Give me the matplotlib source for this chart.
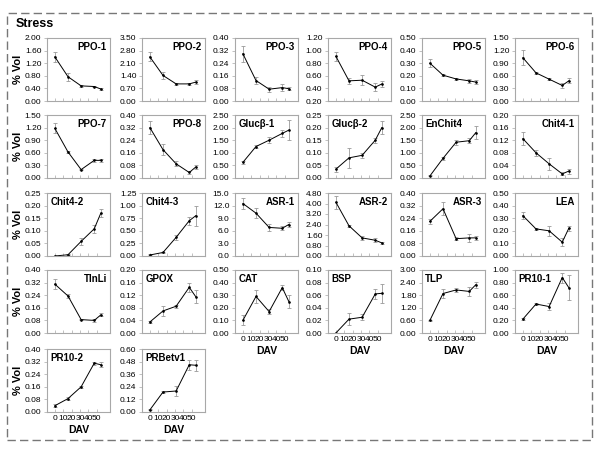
import numpy as np
import matplotlib
matplotlib.use("Agg")
import matplotlib.pyplot as plt
from matplotlib.patches import Rectangle

plt.rcParams['font.family'] = ['Liberation Sans', 'DejaVu Sans']

dav = [0, 10, 20, 30, 35]
dav_ticks = [0, 10, 20, 30, 40, 50]

names = ["PPO-1", "PPO-2", "PPO-3", "PPO-4", "PPO-5", "PPO-6",
         "PPO-7", "PPO-8", "Gluc\u03b2-1", "Gluc\u03b2-2", "EnChit4", "Chit4-1",
         "Chit4-2", "Chit4-3", "ASR-1", "ASR-2", "ASR-3", "LEA",
         "TlnLi", "GPOX", "CAT", "BSP", "TLP", "PR10-1",
         "PR10-2", "PRBetv1"]

values = [
    [1.40, 0.77, 0.48, 0.46, 0.38],
    [2.45, 1.42, 0.95, 0.95, 1.05],
    [0.30, 0.13, 0.075, 0.085, 0.078],
    [0.91, 0.52, 0.53, 0.42, 0.47],
    [0.30, 0.205, 0.175, 0.16, 0.15],
    [1.03, 0.67, 0.52, 0.37, 0.48],
    [1.18, 0.62, 0.20, 0.42, 0.42],
    [0.32, 0.18, 0.09, 0.035, 0.07],
    [0.62, 1.25, 1.50, 1.77, 1.90],
    [0.035, 0.08, 0.09, 0.15, 0.20],
    [0.08, 0.78, 1.42, 1.48, 1.80],
    [0.125, 0.08, 0.045, 0.013, 0.022],
    [0.0, 0.005, 0.058, 0.108, 0.17],
    [0.02, 0.07, 0.37, 0.70, 0.80],
    [12.5, 10.2, 6.8, 6.6, 7.5],
    [4.1, 2.3, 1.38, 1.2, 1.0],
    [0.22, 0.30, 0.11, 0.115, 0.115],
    [0.32, 0.215, 0.20, 0.11, 0.22],
    [0.31, 0.235, 0.085, 0.08, 0.115],
    [0.035, 0.07, 0.085, 0.145, 0.115],
    [0.10, 0.29, 0.17, 0.36, 0.25],
    [0.0, 0.022, 0.025, 0.062, 0.063],
    [0.60, 1.88, 2.05, 1.98, 2.30],
    [0.22, 0.46, 0.42, 0.88, 0.72],
    [0.04, 0.085, 0.16, 0.31, 0.30],
    [0.02, 0.19, 0.20, 0.45, 0.445],
]

errors = [
    [0.15, 0.12, 0.02, 0.03, 0.02],
    [0.25, 0.20, 0.05, 0.07, 0.10],
    [0.05, 0.02, 0.015, 0.02, 0.01],
    [0.07, 0.05, 0.08, 0.06, 0.05],
    [0.03, 0.01, 0.01, 0.015, 0.015],
    [0.18, 0.03, 0.02, 0.05, 0.06],
    [0.12, 0.02, 0.02, 0.03, 0.03],
    [0.04, 0.035, 0.015, 0.01, 0.01],
    [0.05, 0.05, 0.12, 0.15, 0.40],
    [0.01, 0.04, 0.01, 0.01, 0.025],
    [0.02, 0.05, 0.10, 0.10, 0.25],
    [0.02, 0.01, 0.02, 0.005, 0.008],
    [0.0, 0.003, 0.015, 0.015, 0.015],
    [0.01, 0.01, 0.05, 0.08, 0.20],
    [1.3, 1.2, 0.8, 0.5, 0.7],
    [0.5, 0.1, 0.15, 0.15, 0.10],
    [0.015, 0.04, 0.01, 0.025, 0.015],
    [0.03, 0.01, 0.04, 0.03, 0.02],
    [0.03, 0.015, 0.005, 0.01, 0.01],
    [0.003, 0.015, 0.005, 0.015, 0.02],
    [0.04, 0.05, 0.02, 0.02, 0.05],
    [0.0, 0.01, 0.005, 0.008, 0.015],
    [0.03, 0.20, 0.10, 0.20, 0.15],
    [0.02, 0.02, 0.05, 0.08, 0.20],
    [0.01, 0.01, 0.005, 0.01, 0.015],
    [0.005, 0.01, 0.05, 0.05, 0.05],
]

yranges = [
    (0, 2.0, 0.4), (0, 3.5, 0.7), (0, 0.4, 0.08), (0.2, 1.2, 0.2), (0, 0.5, 0.1), (0, 1.5, 0.3),
    (0, 1.5, 0.3), (0, 0.4, 0.08), (0, 2.5, 0.5), (0, 0.25, 0.05), (0, 2.5, 0.5), (0, 0.2, 0.04),
    (0, 0.25, 0.05), (0, 1.25, 0.25), (0, 15.0, 3.0), (0, 4.8, 0.8), (0, 0.4, 0.08), (0, 0.5, 0.1),
    (0, 0.4, 0.08), (0, 0.2, 0.04), (0, 0.5, 0.1), (0, 0.1, 0.02), (0, 3.0, 0.6), (0, 1.0, 0.2),
    (0, 0.4, 0.08), (0, 0.6, 0.12),
]

title_right = [True, True, True, True, True, True,
               True, True, False, False, False, True,
               False, False, True, True, True, True,
               True, False, False, False, False, False,
               False, False]

W, H = 600, 450
fig = plt.figure(figsize=(6, 4.5), dpi=100)

# dashed frame round everything
fig.patches.append(Rectangle((7 / W, 1 - 440 / H), 585 / W, 427 / H, transform=fig.transFigure,
                             fill=False, ec="#777777", lw=1.0, ls=(0, (6, 3))))
fig.text(16 / W, 1 - 24 / H, "Stress", fontsize=9, fontweight="bold", va="center")

col_x = [47, 142, 235, 328, 422, 515]
row_y = [38, 115, 193, 270, 349]
aw, ah = 63, 63
grey = "#a8a8a8"

for i, name in enumerate(names):
    r, c = divmod(i, 6)
    ax = fig.add_axes([col_x[c] / W, 1 - (row_y[r] + ah) / H, aw / W, ah / H])
    ax.errorbar(dav, values[i], yerr=errors[i], color="black", lw=0.7,
                marker="o", ms=0.9, ecolor="#999999", elinewidth=0.6, capsize=1.5, capthick=0.6)
    lo, hi, st = yranges[i]
    ax.set_ylim(lo, hi)
    yt = np.arange(lo, hi + st / 2, st)
    ax.set_yticks(yt)
    fmt = "%.1f" if hi >= 10 else "%.2f"
    ax.set_yticklabels([fmt % v for v in yt])
    ax.set_xlim(-6, 42)
    # tick labels are crammed together in the source figure
    ax.set_xticks(np.linspace(0, 32, 6))
    last_in_col = (i + 6 >= len(names))
    if last_in_col:
        ax.set_xticklabels([str(t) for t in dav_ticks])
        ax.set_xlabel("DAV", fontsize=7.5, fontweight="bold", labelpad=2)
    else:
        ax.set_xticklabels([])
    if c == 0:
        ax.set_ylabel("% Vol", fontsize=8, fontweight="bold", labelpad=1)
    for s in ax.spines.values():
        s.set_color(grey)
        s.set_linewidth(0.8)
    ax.tick_params(axis="both", labelsize=6, length=2, width=0.5, color=grey, pad=2)
    ax.tick_params(axis="x", direction="in")
    if title_right[i]:
        ax.text(0.95, 0.94, name, transform=ax.transAxes, ha="right", va="top",
                fontsize=7, fontweight="bold")
    else:
        ax.text(0.05, 0.94, name, transform=ax.transAxes, ha="left", va="top",
                fontsize=7, fontweight="bold")

fig.savefig("out.png", dpi=100)
